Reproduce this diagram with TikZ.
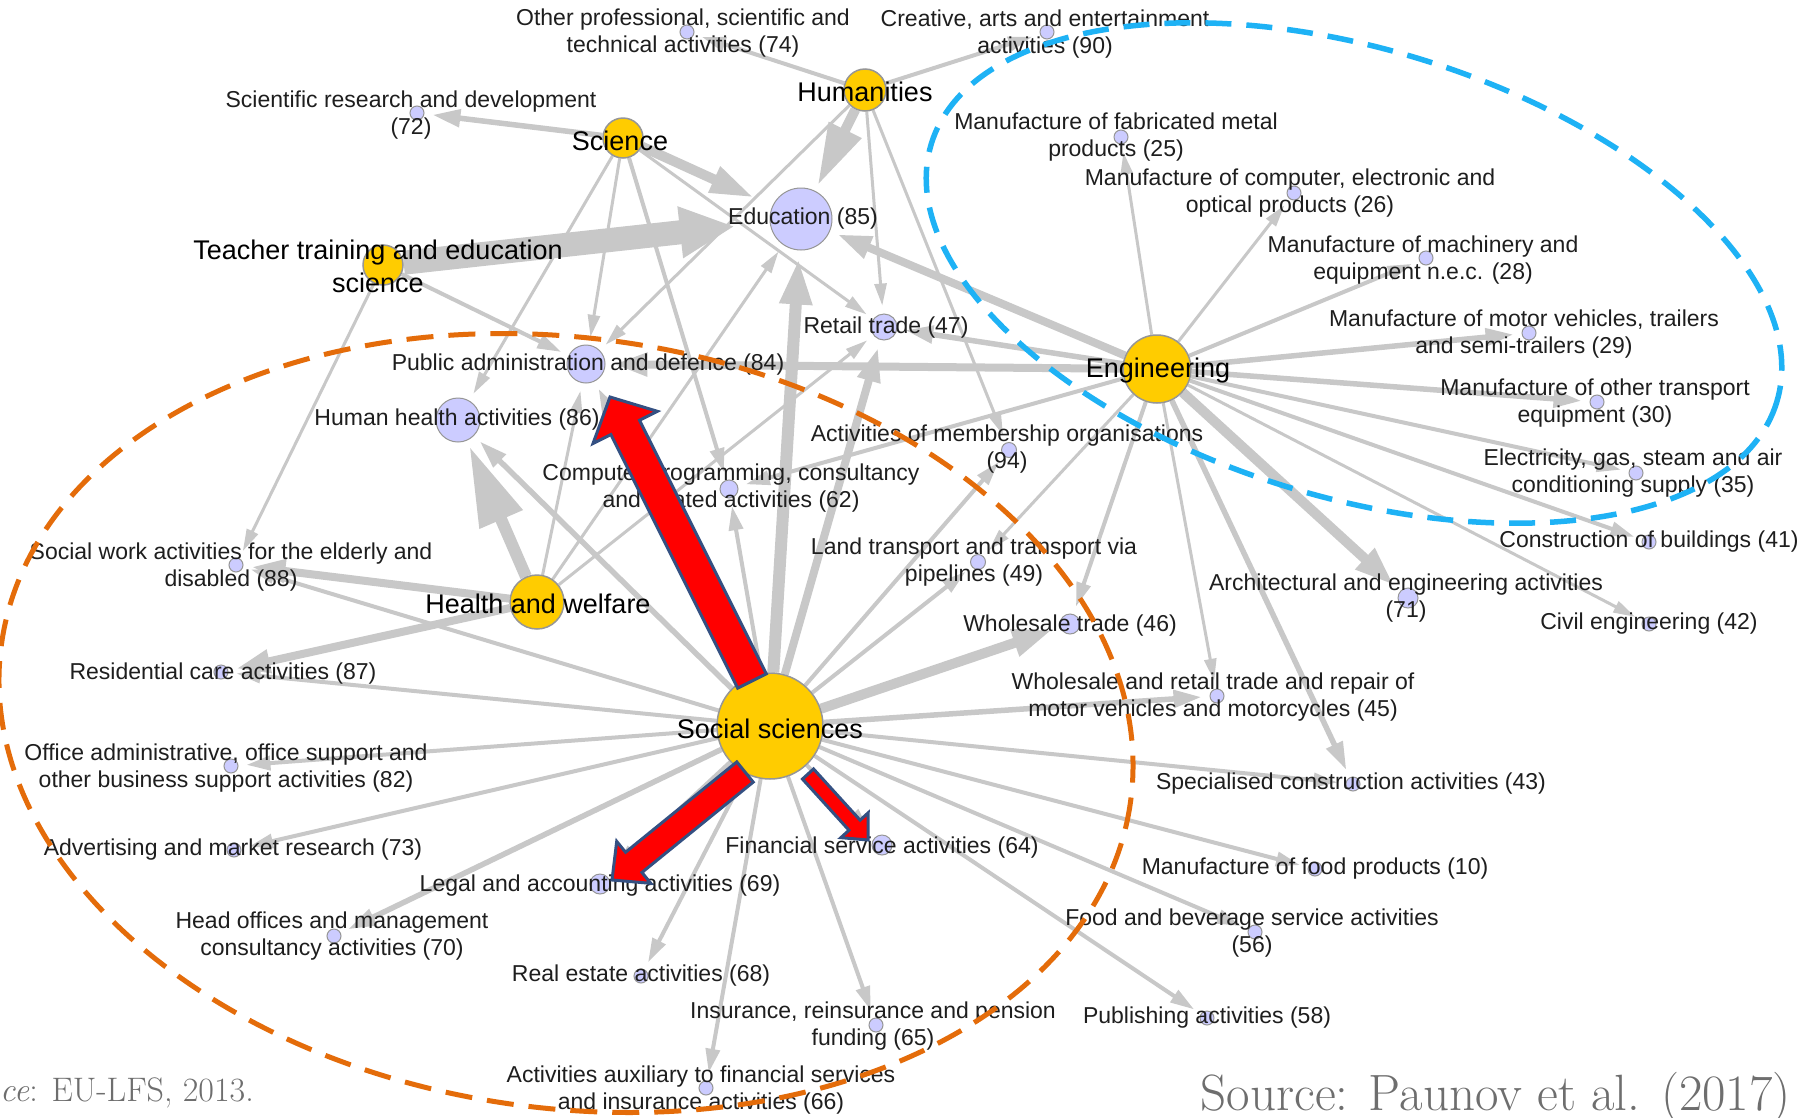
\documentclass[tikz,border=0pt]{standalone}
\usepackage{fontspec}
\newfontfamily\labfont{Liberation Sans}
\usetikzlibrary{arrows.meta,calc}
\pgfdeclarelayer{bglayer}
\pgfdeclarelayer{edgelayer}
\pgfsetlayers{bglayer,edgelayer,main}
\definecolor{edgec}{RGB}{200,200,200}
\definecolor{gold}{RGB}{255,204,0}
\definecolor{lav}{RGB}{204,204,255}
\definecolor{nodeb}{RGB}{150,150,150}
\definecolor{orng}{RGB}{228,108,10}
\definecolor{skyb}{RGB}{30,178,245}
\definecolor{redf}{RGB}{255,0,0}
\definecolor{redb}{RGB}{52,80,130}
\definecolor{srcg}{RGB}{110,110,110}
\definecolor{labc}{RGB}{30,30,30}
\newcommand{\blockarrow}[5]{%
  \path ($(#2)!#5!(#1)$) coordinate (ba-b);
  \filldraw[fill=redf,draw=redb,line width=3pt,line join=miter]
    ($(#1)!#3!90:(#2)$) -- ($(ba-b)!#3!90:(#2)$) -- ($(ba-b)!#4!90:(#2)$) -- (#2)
    -- ($(ba-b)!#4!-90:(#2)$) -- ($(ba-b)!#3!-90:(#2)$) -- ($(#1)!#3!-90:(#2)$) -- cycle;
}
\tikzset{
  dom/.style={circle,fill=gold,draw=nodeb,line width=1.5pt,inner sep=0pt,minimum size=#1},
  ind/.style={circle,fill=lav,draw=nodeb,line width=1pt,inner sep=0pt,minimum size=#1},
  ind/.default=14pt,
  lab/.style={font=\labfont\fontsize{23}{27.5}\selectfont,align=center,inner sep=0pt,text=labc},
  dlab/.style={font=\labfont\fontsize{27}{33}\selectfont,align=center,inner sep=0pt,text=black},
  ea/.style={draw=edgec,line width=3pt,-{Triangle[length=22pt,width=12pt]},shorten >=8pt},
  eb/.style={draw=edgec,line width=4pt,-{Triangle[length=24pt,width=14pt]},shorten >=8pt},
  ec/.style={draw=edgec,line width=5.5pt,-{Triangle[length=28pt,width=17pt]},shorten >=8pt},
  ed/.style={draw=edgec,line width=8pt,-{Triangle[length=34pt,width=22pt]},shorten >=8pt},
  ee/.style={draw=edgec,line width=10pt,-{Triangle[length=40pt,width=26pt]},shorten >=8pt},
  dashorange/.style={draw=orng,line width=5pt,dash pattern=on 27pt off 15pt},
  dashblue/.style={draw=skyb,line width=5.5pt,dash pattern=on 26pt off 15pt},
  srctext/.style={inner sep=0pt,text=srcg}
}
\begin{document}
\begin{tikzpicture}[x=1pt,y=-1pt]
\useasboundingbox (0,0) rectangle (1808,1117);
\begin{pgfonlayer}{bglayer}
\fill[white] (0,0) rectangle (1808,1117);
\end{pgfonlayer}

% domain nodes
\node[dom=42pt] (hum) at (865,90) {};
\node[dom=40pt] (sci) at (623,138) {};
\node[dom=40pt] (tt) at (383,265) {};
\node[dom=68pt] (eng) at (1157,369) {};
\node[dom=54pt] (hw) at (537,602) {};
\node[dom=106pt] (ss) at (770,726) {};

% industry nodes
\node[ind] (n74) at (687,32) {};
\node[ind] (n90) at (1047,32) {};
\node[ind] (n72) at (417,113) {};
\node[ind=62pt] (n85) at (801,219) {};
\node[ind=26pt] (n47) at (884,327) {};
\node[ind=38pt] (n84) at (586,364) {};
\node[ind=44pt] (n86) at (458,420) {};
\node[ind=18pt] (n62) at (729,489) {};
\node[ind=15pt] (n94) at (1009,450) {};
\node[ind=15pt] (n49) at (978,562) {};
\node[ind] (n88) at (236,565) {};
\node[ind] (n87) at (221,672) {};
\node[ind=20pt] (n46) at (1070,624) {};
\node[ind] (n45) at (1217,696) {};
\node[ind] (n82) at (231,766) {};
\node[ind] (n73) at (234,850) {};
\node[ind=20pt] (n69) at (600,884) {};
\node[ind=20pt] (n64) at (882,845) {};
\node[ind] (n70) at (334,936) {};
\node[ind] (n68) at (641,976) {};
\node[ind] (n65) at (876,1025) {};
\node[ind] (n66) at (706,1088) {};
\node[ind] (n25) at (1121,137) {};
\node[ind] (n26) at (1294,193) {};
\node[ind] (n28) at (1426,258) {};
\node[ind] (n29) at (1529,333) {};
\node[ind] (n30) at (1597,402) {};
\node[ind] (n35) at (1636,473) {};
\node[ind] (n41) at (1649,542) {};
\node[ind=20pt] (n71) at (1408,598) {};
\node[ind] (n42) at (1649,624) {};
\node[ind] (n43) at (1353,784) {};
\node[ind] (n10) at (1315,869) {};
\node[ind] (n56) at (1255,932) {};
\node[ind] (n58) at (1207,1018) {};

% edges
\begin{pgfonlayer}{edgelayer}
% Social sciences
\foreach \t in {n88,n87,n82,n73,n68,n66,n65,n64,n58,n56,n10,n43,n49,n94,n62}
  \draw[eb] (ss) -- (\t);
\foreach \t in {n86,n70,n69,n45,n84}
  \draw[ec] (ss) -- (\t);
\draw[ed] (ss) -- (n47);
\draw[ee] (ss) -- (n46);
\draw[draw=edgec,line width=12pt,-{Triangle[length=46pt,width=30pt]},shorten >=8pt] (ss) -- (n85);
% Engineering
\foreach \t in {n25,n26,n42,n45,n49}
  \draw[ea] (eng) -- (\t);
\foreach \t in {n28,n35,n41,n46,n62}
  \draw[eb] (eng) -- (\t);
\foreach \t in {n29,n30,n43,n47}
  \draw[ec] (eng) -- (\t);
\draw[ed] (eng) -- (n84);
\draw[ed] (eng) -- (n85);
\draw[ee] (eng) -- (n71);
% Humanities
\draw[eb] (hum) -- (n74);
\draw[eb] (hum) -- (n90);
\foreach \t in {n84,n47,n94}
  \draw[ea] (hum) -- (\t);
\draw[draw=edgec,line width=10pt,-{Triangle[length=62pt,width=34pt]},shorten >=6pt] (hum) -- (n85);
% Science
\draw[ec] (sci) -- (n72);
\draw[eb] (sci) -- (n62);
\foreach \t in {n84,n47,n86}
  \draw[ea] (sci) -- (\t);
\draw[draw=edgec,line width=10pt,-{Triangle[length=44pt,width=26pt]},shorten >=20pt] (sci) -- (n85);
% Teacher training
\draw[draw=edgec,line width=24pt,-{Triangle[length=55pt,width=48pt]},shorten >=35pt] (tt) -- (n85);
\draw[eb] (tt) -- (n84);
\draw[ea] (tt) -- (n88);
% Health and welfare
\draw[draw=edgec,line width=12pt,-{Triangle[length=80pt,width=44pt]},shorten >=6pt] (hw) -- (n86);
\draw[ed] (hw) -- (n88);
\draw[ed] (hw) -- (n87);
\foreach \t in {n84,n85,n47}
  \draw[ea] (hw) -- (\t);
\end{pgfonlayer}

% labels of industries
\node[lab] (l74) at (683,33) {Other professional, scientific and\\technical activities (74)};
\node[lab] (l90) at (1045,34) {Creative, arts and entertainment\\activities (90)};
\node[lab] (l72) at (411,115) {Scientific research and development\\(72)};
\node[lab] (l85) at (803,219) {Education (85)};
\node[lab] (l47) at (886,328) {Retail trade (47)};
\node[lab] (l84) at (588,365) {Public administration and defence (84)};
\node[lab] (l86) at (457,420) {Human health activities (86)};
\node[lab] (l62) at (731,488) {Computer programming, consultancy\\and related activities (62)};
\node[lab] (l94) at (1007,449) {Activities of membership organisations\\(94)};
\node[lab] (l49) at (974,562) {Land transport and transport via\\pipelines (49)};
\node[lab] (l88) at (231,567) {Social work activities for the elderly and\\disabled (88)};
\node[lab] (l87) at (223,674) {Residential care activities (87)};
\node[lab] (l46) at (1070,626) {Wholesale trade (46)};
\node[lab] (l45) at (1213,697) {Wholesale and retail trade and repair of\\motor vehicles and motorcycles (45)};
\node[lab] (l82) at (226,768) {Office administrative, office support and\\other business support activities (82)};
\node[lab] (l73) at (233,850) {Advertising and market research (73)};
\node[lab] (l69) at (600,886) {Legal and accounting activities (69)};
\node[lab] (l64) at (882,848) {Financial service activities (64)};
\node[lab] (l70) at (332,936) {Head offices and management\\consultancy activities (70)};
\node[lab] (l68) at (641,976) {Real estate activities (68)};
\node[lab] (l65) at (873,1026) {Insurance, reinsurance and pension\\funding (65)};
\node[lab] (l66) at (701,1090) {Activities auxiliary to financial services\\and insurance activities (66)};
\node[lab] (l25) at (1116,137) {Manufacture of fabricated metal\\products (25)};
\node[lab] (l26) at (1290,193) {Manufacture of computer, electronic and\\optical products (26)};
\node[lab] (l28) at (1423,260) {Manufacture of machinery and\\equipment n.e.c. (28)};
\node[lab] (l29) at (1524,334) {Manufacture of motor vehicles, trailers\\and semi-trailers (29)};
\node[lab] (l30) at (1595,403) {Manufacture of other transport\\equipment (30)};
\node[lab] (l35) at (1633,473) {Electricity, gas, steam and air\\conditioning supply (35)};
\node[lab] (l41) at (1649,542) {Construction of buildings (41)};
\node[lab] (l71) at (1406,598) {Architectural and engineering activities\\(71)};
\node[lab] (l42) at (1649,624) {Civil engineering (42)};
\node[lab] (l43) at (1351,784) {Specialised construction activities (43)};
\node[lab] (l10) at (1315,869) {Manufacture of food products (10)};
\node[lab] (l56) at (1252,933) {Food and beverage service activities\\(56)};
\node[lab] (l58) at (1207,1018) {Publishing activities (58)};

% labels of domains
\node[dlab] (lhum) at (865,92) {Humanities};
\node[dlab] (lsci) at (620,141) {Science};
\node[dlab] (ltt) at (378,266) {Teacher training and education\\science};
\node[dlab] (leng) at (1158,371) {Engineering};
\node[dlab] (lhw) at (538,604) {Health and welfare};
\node[dlab] (lss) at (770,729) {Social sciences};

% red block arrows
\coordinate (ra1t) at ($(ss)+(-18,-45)$);
\coordinate (ra1p) at ($(n84)+(24,33)$);
\blockarrow{ra1t}{ra1p}{16pt}{36pt}{34pt}
\coordinate (ra2t) at ($(ss)+(-25,46)$);
\coordinate (ra2p) at ($(n69)+(12,-4)$);
\blockarrow{ra2t}{ra2p}{13pt}{27pt}{28pt}
\coordinate (ra3t) at ($(ss)+(38,48)$);
\coordinate (ra3p) at ($(n64)+(-14,-5)$);
\blockarrow{ra3t}{ra3p}{7.5pt}{18.5pt}{20pt}

% dashed clusters
\draw[dashorange,rotate around={-8:(566,723)}] (566,723) ellipse [x radius=570, y radius=385];
\draw[dashblue,rotate around={-17:(1354,273)}] (1354,273) ellipse [x radius=442, y radius=224];

% sources
\node[srctext,anchor=base west,font=\fontsize{34}{40}\selectfont] (src1) at (0,1101) {\textit{ce}: EU-LFS, 2013.};
\node[srctext,anchor=base east,font=\fontsize{51}{58}\selectfont] (src2) at (1791,1110) {Source: Paunov et al. (2017)};
\end{tikzpicture}
\end{document}
